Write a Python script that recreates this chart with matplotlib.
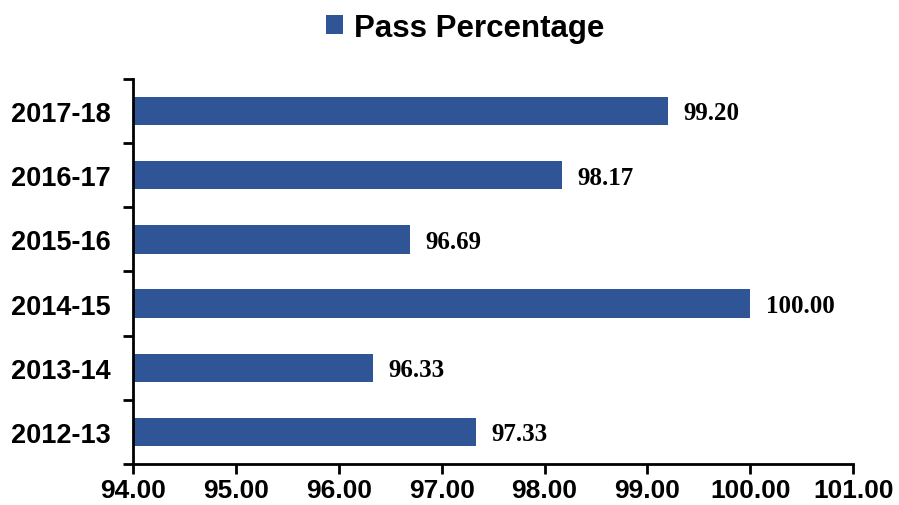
import matplotlib.pyplot as plt
from matplotlib.ticker import FixedLocator

years = ['2012-13', '2013-14', '2014-15', '2015-16', '2016-17', '2017-18']
pass_pct = [97.33, 96.33, 100.00, 96.69, 98.17, 99.20]
xticks = [94, 95, 96, 97, 98, 99, 100, 101]

bar_color = '#2F5597'

fig = plt.figure(figsize=(8.99, 5.06), dpi=100)
ax = fig.add_axes([0.148, 0.081, 0.801, 0.761])

pos = list(range(len(years)))
bars = ax.barh(pos, [v - 94 for v in pass_pct], left=94, height=0.44,
               color=bar_color, label='Pass Percentage')

for p, v in zip(pos, pass_pct):
    ax.text(v + 0.15, p - 0.03, f'{v:.2f}', va='center', ha='left',
            fontsize=18, fontweight='bold', family='Liberation Serif')

ax.set_xlim(94, 101)
ax.set_ylim(-0.5, len(years) - 0.5)
ax.set_xticks(xticks)
ax.set_xticklabels([f'{t:.2f}' for t in xticks])
ax.set_yticks(pos)
ax.set_yticklabels(years)
ax.yaxis.set_minor_locator(FixedLocator([p - 0.5 for p in range(len(years) + 1)]))

for lab in ax.get_xticklabels():
    lab.set_family('Liberation Sans')
    lab.set_fontweight('bold')
    lab.set_fontsize(19)
for lab in ax.get_yticklabels():
    lab.set_family('Liberation Sans')
    lab.set_fontweight('bold')
    lab.set_fontsize(19.5)

ax.tick_params(axis='y', which='major', length=0, pad=16)
ax.tick_params(axis='y', which='minor', length=7, width=2)
ax.tick_params(axis='x', length=7, width=2, pad=3)

for s in ['top', 'right']:
    ax.spines[s].set_visible(False)
for s in ['left', 'bottom']:
    ax.spines[s].set_linewidth(2)

fig.legend(handles=[bars], loc='center', bbox_to_anchor=(0.517, 0.943),
           frameon=False, handlelength=0.55, handleheight=0.55, handletextpad=0.35,
           prop={'family': 'Liberation Sans', 'weight': 'bold', 'size': 22.5})

fig.savefig('out.png', dpi=100)
